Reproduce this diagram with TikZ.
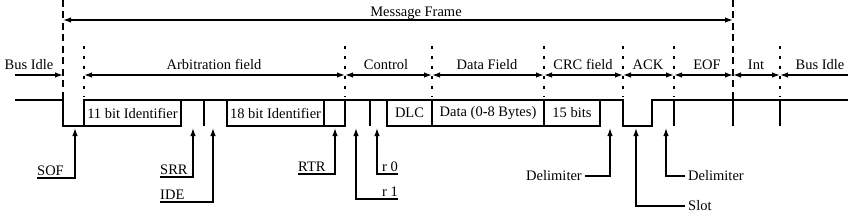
\documentclass[tikz,border=0pt]{standalone}
\usepackage{fontspec}
\setmainfont{Liberation Serif}
\usetikzlibrary{arrows.meta}
\begin{document}
\begin{tikzpicture}[x=1pt,y=-1pt,
  myTip/.tip={Latex[length=8pt,width=5.5pt]},
  every node/.style={font=\fontsize{14.5}{16}\selectfont},
  wave/.style={line width=1.3pt,line join=miter},
  tipline/.style={line width=1.3pt,-myTip},
  bothline/.style={line width=1.3pt,myTip-myTip},
  endline/.style={line width=1.3pt,-myTip},
  startline/.style={line width=1.3pt,myTip-},
  outerdash/.style={line width=1.3pt,dash pattern=on 7pt off 4.5pt},
  innerdot/.style={line width=1.3pt,dash pattern=on 3pt off 7pt},
  fieldlabel/.style={anchor=base,inner sep=0pt},
  botlabel/.style={inner xsep=0pt,inner ysep=2pt,text depth=0pt},
  sidelabel/.style={inner xsep=3pt,inner ysep=1pt},
]
\useasboundingbox[fill=white] (0,0) rectangle (850,219);

% frame boundaries (dashed) and field separators (dotted)
\draw[outerdash] (63,0) -- (63,100);
\draw[outerdash] (733,0) -- (733,100);
\foreach \x in {84,345,432,544,623,674,780}
  \draw[innerdot] (\x,46) -- (\x,97);

% Message frame arrow
\coordinate (mfL) at (63,20);
\coordinate (mfR) at (733,20);
\draw[bothline] (mfL) -- (mfR);
\node[fieldlabel] (mf) at (416,17) {Message Frame};

% field arrows
\coordinate (b0) at (15,75);
\coordinate (f0) at (63,75);
\coordinate (f1) at (84,75);
\coordinate (f2) at (345,75);
\coordinate (f3) at (432,75);
\coordinate (f4) at (544,75);
\coordinate (f5) at (623,75);
\coordinate (f6) at (674,75);
\coordinate (f7) at (733,75);
\coordinate (f8) at (780,75);
\coordinate (b9) at (848,75);
\draw[endline] (b0) -- (f0);
\draw[bothline] (f1) -- (f2);
\draw[bothline] (f2) -- (f3);
\draw[bothline] (f3) -- (f4);
\draw[bothline] (f4) -- (f5);
\draw[bothline] (f5) -- (f6);
\draw[bothline] (f6) -- (f7);
\draw[bothline] (f7) -- (f8);
\draw[startline] (f8) -- (b9);
\node[fieldlabel] (lbi) at (29,70) {Bus Idle};
\node[fieldlabel] (larb) at (214,70) {Arbitration field};
\node[fieldlabel] (lctl) at (386,70) {Control};
\node[fieldlabel] (ldat) at (487,70) {Data Field};
\node[fieldlabel] (lcrc) at (583,70) {CRC field};
\node[fieldlabel] (lack) at (648,70) {ACK};
\node[fieldlabel] (leof) at (707,70) {EOF};
\node[fieldlabel] (lint) at (756,70) {Int};
\node[fieldlabel] (lbi2) at (820,70) {Bus Idle};

% waveform
\draw[wave] (15,100) -- (63,100) -- (63,126) -- (181,126) -- (181,100);
\draw[wave] (84,126) -- (84,100) -- (623,100) -- (623,126) -- (652,126) -- (652,100) -- (848,100);
\draw[wave] (204,100) -- (204,126);
\draw[wave] (227,100) -- (227,126) -- (345,126) -- (345,100);
\draw[wave] (324,100) -- (324,126);
\draw[wave] (370,100) -- (370,126);
\draw[wave] (387,100) -- (387,126) -- (600,126) -- (600,100);
\draw[wave] (432,100) -- (432,126);
\draw[wave] (544,100) -- (544,126);
\foreach \x in {674,733,780}
  \draw[wave] (\x,100) -- (\x,126);

% box texts
\node (t11) at (132.5,113) {11 bit Identifier};
\node (t18) at (275.5,113) {18 bit Identifier};
\node (tdlc) at (409.5,113) {DLC};
\node (tdat) at (488,113) {Data (0-8 Bytes)};
\node (tcrc) at (572,113) {15 bits};

% bottom labels and pointers
\node[botlabel,anchor=south west] (sof) at (37,178) {SOF};
\coordinate (sofT) at (75,128);
\draw[tipline] (sof.south west) -| (sofT);

\node[botlabel,anchor=south west] (srr) at (160,177) {SRR};
\coordinate (srrT) at (193,128);
\draw[tipline] (srr.south west) -| (srrT);

\node[botlabel,anchor=south west] (ide) at (160,202) {IDE};
\coordinate (ideT) at (213,128);
\draw[tipline] (ide.south west) -| (ideT);

\node[botlabel,anchor=south west] (rtr) at (298,174) {RTR};
\coordinate (rtrT) at (335,128);
\draw[tipline] (rtr.south west) -| (rtrT);

\node[botlabel,anchor=south east] (rone) at (398,199) {r 1};
\coordinate (roneT) at (356,128);
\draw[tipline] (rone.south east) -| (roneT);

\node[botlabel,anchor=south east] (rzero) at (398,174) {r 0};
\coordinate (rzeroT) at (377,128);
\draw[tipline] (rzero.south east) -| (rzeroT);

\node[sidelabel,anchor=east] (dcrc) at (585,176) {Delimiter};
\coordinate (dcrcT) at (610,128);
\draw[tipline] (dcrc.east) -| (dcrcT);

\node[sidelabel,anchor=west] (slot) at (685,206) {Slot};
\coordinate (slotT) at (636,128);
\draw[tipline] (slot.west) -| (slotT);

\node[sidelabel,anchor=west] (dack) at (685,176) {Delimiter};
\coordinate (dackT) at (666,128);
\draw[tipline] (dack.west) -| (dackT);
\end{tikzpicture}
\end{document}
